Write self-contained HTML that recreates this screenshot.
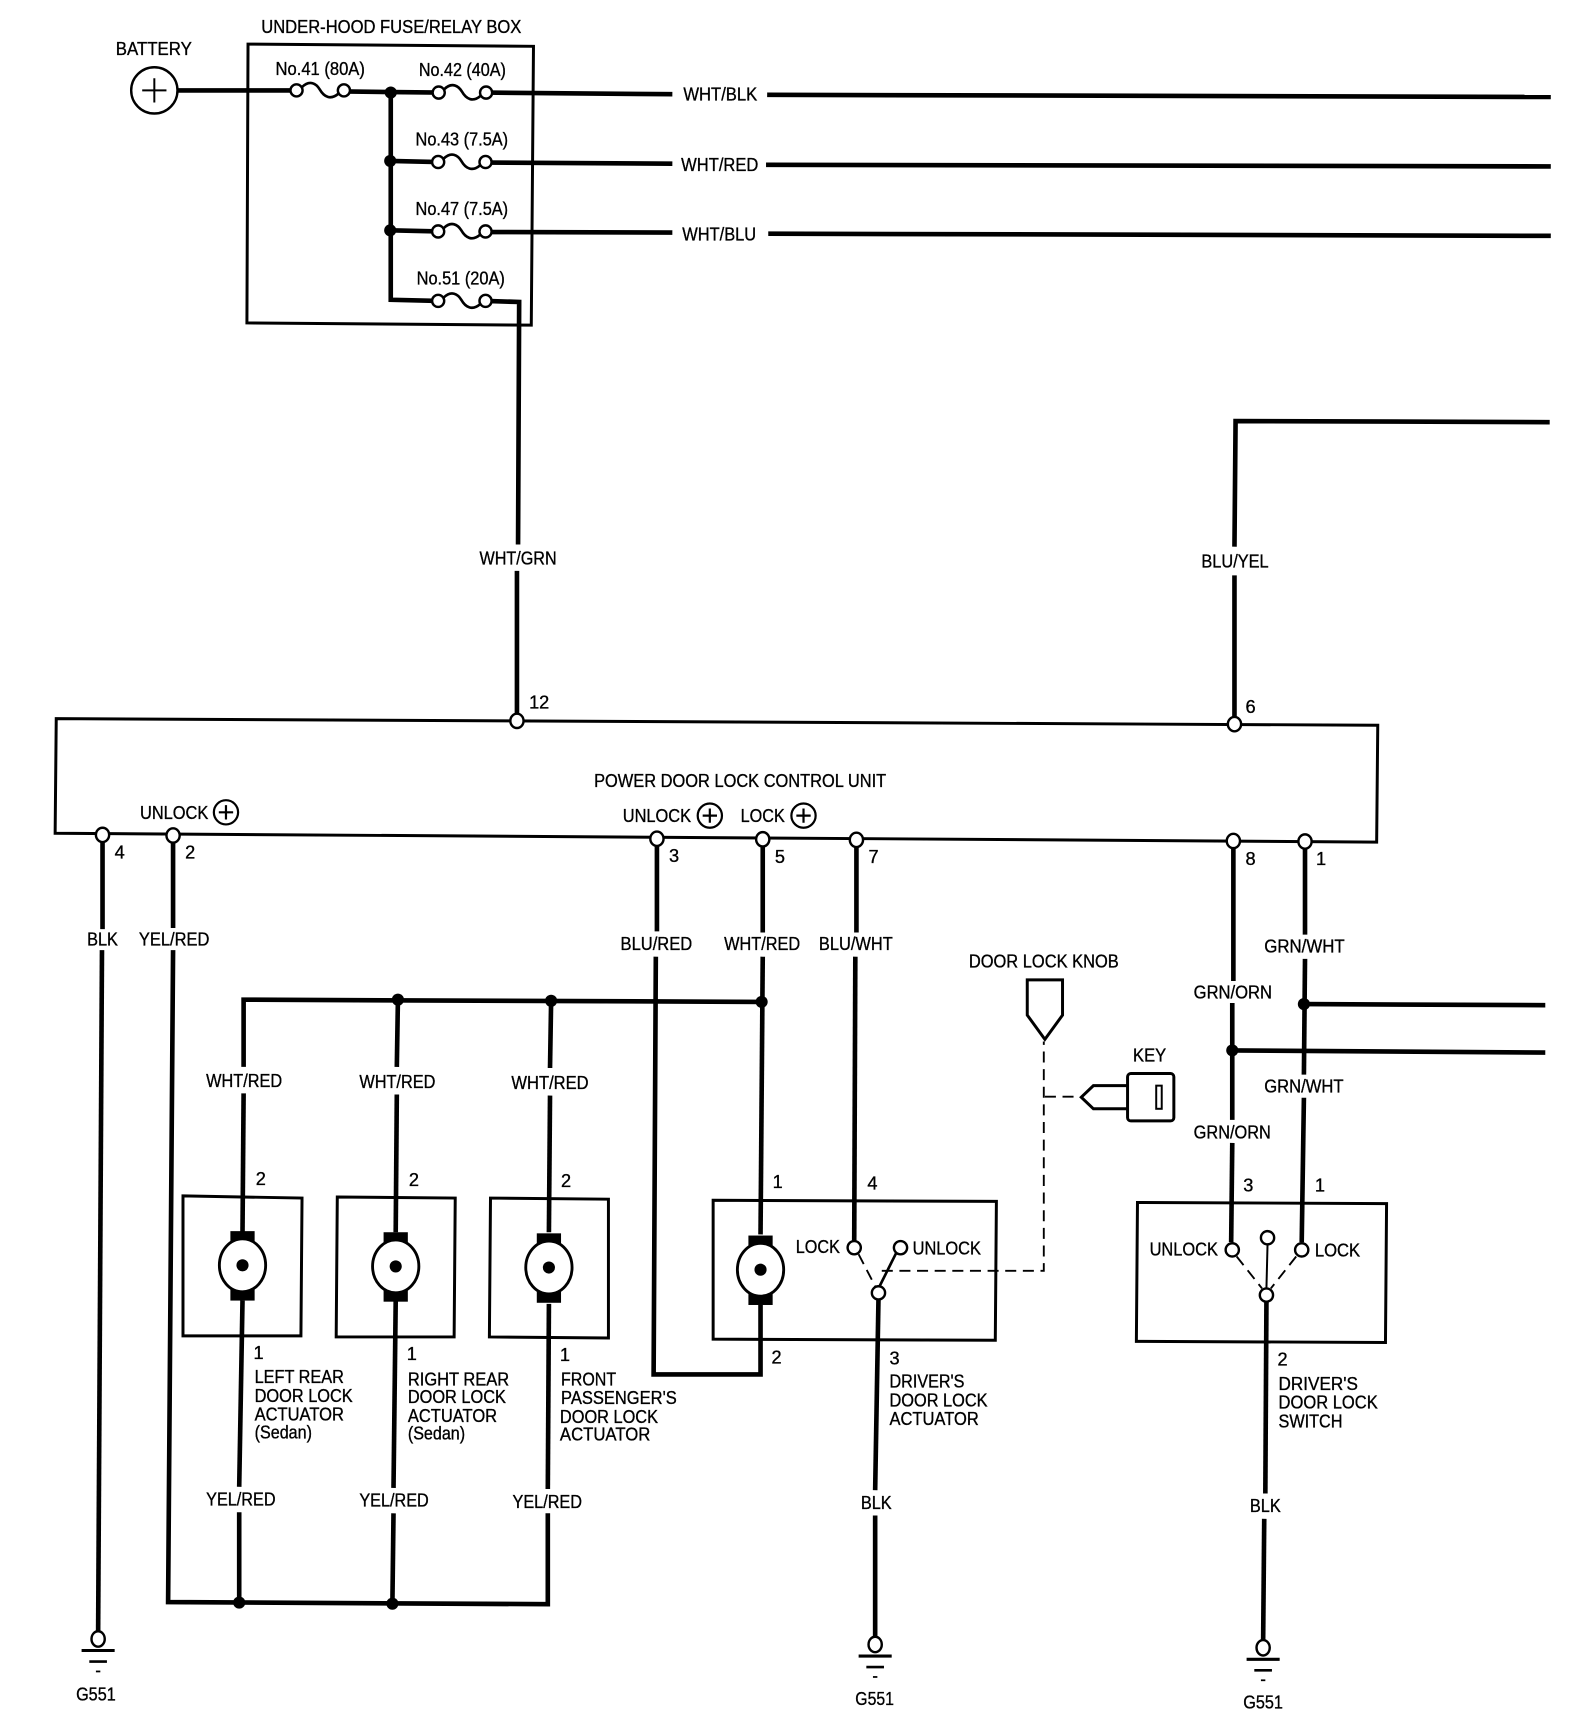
<!DOCTYPE html>
<html><head><meta charset="utf-8"><style>
html,body{margin:0;padding:0;background:#fff}
svg{display:block}
text{font-family:"Liberation Sans",sans-serif;font-size:16.5px;fill:#000;stroke:#000;stroke-width:.3}
.w{fill:none;stroke:#000;stroke-width:4.2;stroke-linejoin:miter}
.b{fill:none;stroke:#000;stroke-width:2.7}
.d{fill:none;stroke:#000;stroke-width:1.7;stroke-dasharray:10 6}
.c{fill:#fff;stroke:#000;stroke-width:2.2}
</style></head><body>
<svg xmlns="http://www.w3.org/2000/svg" width="1584" height="1728" viewBox="0 0 1437.1 1567.8">
<defs>
<g id="fuse"><path d="M5,-3 C12,-10 18,-6 21,-1 C25,6 31,9 38,3" fill="none" stroke="#000" stroke-width="2.4"/><circle class="c" cx="0" cy="0" r="5.5"/><circle class="c" cx="43" cy="0" r="5.5"/></g>
<g id="gnd"><ellipse class="c" cx="0" cy="0" rx="6" ry="7"/><path d="M-15,10.5H15" stroke="#000" stroke-width="2.8"/><path d="M-8,20.5H8" stroke="#000" stroke-width="2.4"/><path d="M-2,29.5H2" stroke="#000" stroke-width="1.6"/></g>
<g id="plus"><circle cx="0" cy="0" r="11" fill="#fff" stroke="#000" stroke-width="2"/><path d="M-6.5,0H6.5M0,-6.5V6.5" stroke="#000" stroke-width="2"/></g>
<g id="motor"><rect x="-11" y="-31" width="22" height="63" fill="#000"/><ellipse cx="0" cy="0" rx="21" ry="24" fill="#fff" stroke="#000" stroke-width="2.6"/><circle cx="0" cy="0" r="5.5" fill="#000"/></g>
</defs>

<!-- boxes -->
<path class="b" d="M225,40 L484,42 L482,295 L224,293Z"/>
<path class="b" d="M51,652 L1250,658 L1249,764 L50,756Z"/>
<path class="b" d="M166,1085 L274,1087 L273,1212 L166,1212Z"/>
<path class="b" d="M306,1086 L413,1087 L412,1213 L305,1213Z"/>
<path class="b" d="M445,1087 L552,1088 L552,1214 L444,1213Z"/>
<path class="b" d="M647,1089 L904,1090 L903,1216 L647,1215Z"/>
<path class="b" d="M1032,1091 L1258,1092 L1257,1218 L1031,1217Z"/>

<!-- top wires -->
<path class="w" d="M161,82 L269,82"/>
<path class="w" d="M312,83 L398,84"/>
<path class="w" d="M354.500,84 L354.500,272 L398,273"/>
<path class="w" d="M354,146 L398,147"/>
<path class="w" d="M354,209 L398,210"/>
<path class="w" d="M441,84 L610,85.5"/>
<path class="w" d="M696,86 L1407,88"/>
<path class="w" d="M441,147.5 L610,148.5"/>
<path class="w" d="M695,149.5 L1407,151"/>
<path class="w" d="M441,210.5 L610,211"/>
<path class="w" d="M697,212 L1407,214"/>
<path class="w" d="M441,273 L471,274 L470,494"/>
<path class="w" d="M469,518 L469,650"/>
<path class="w" d="M1406,383 L1121,382 L1120,496"/>
<path class="w" d="M1120,522 L1120,652"/>

<!-- lower wires -->
<path class="w" d="M93,763 L93,843"/>
<path class="w" d="M92.5,862 L89,1482"/>
<path class="w" d="M157,764 L157,842"/>
<path class="w" d="M157,862 L152.500,1453.500 L497,1455.500 L497,1373"/>
<path class="w" d="M596,767 L596,845"/>
<path class="w" d="M595,868 L593,1247 L690,1247 L690,1184"/>
<path class="w" d="M692,768 L692,846"/>
<path class="w" d="M692,868 L690,1120"/>
<path class="w" d="M777,768 L777,846"/>
<path class="w" d="M776,868 L775,1126"/>
<path class="w" d="M221,968 L221,907 L691,909"/>
<path class="w" d="M221,992 L220,1118"/>
<path class="w" d="M361,907 L360,968"/>
<path class="w" d="M360,993 L359,1118"/>
<path class="w" d="M500,908 L499,969"/>
<path class="w" d="M499,994 L498,1118"/>
<path class="w" d="M220,1180 L217,1349"/>
<path class="w" d="M217,1372 L217,1454"/>
<path class="w" d="M359,1180 L357,1350"/>
<path class="w" d="M357,1373 L356,1455"/>
<path class="w" d="M498,1183 L497,1351"/>
<path class="w" d="M797,1179 L794,1352"/>
<path class="w" d="M794,1375 L794,1485"/>
<path class="w" d="M1119,769 L1119,890"/>
<path class="w" d="M1118,910 L1118,1016"/>
<path class="w" d="M1118,1037 L1117,1127"/>
<path class="w" d="M1118,953 L1402,955"/>
<path class="w" d="M1184,770 L1184,848"/>
<path class="w" d="M1184,870 L1183,975"/>
<path class="w" d="M1183,996 L1181,1127"/>
<path class="w" d="M1183,911 L1402,912"/>
<path class="w" d="M1149,1181 L1148,1355"/>
<path class="w" d="M1147,1378 L1146,1490"/>

<!-- junctions -->
<g fill="#000">
<circle cx="354.500" cy="84" r="5.500"/><circle cx="354" cy="146" r="5.500"/><circle cx="354" cy="209" r="5.500"/>
<circle cx="361" cy="907" r="5.500"/><circle cx="500" cy="908" r="5.500"/><circle cx="691" cy="909" r="5.500"/>
<circle cx="217" cy="1454" r="5.500"/><circle cx="356" cy="1455" r="5.500"/>
<circle cx="1118" cy="953" r="5.500"/><circle cx="1183" cy="911" r="5.500"/>
</g>

<!-- battery -->
<circle cx="140" cy="82" r="21" fill="#fff" stroke="#000" stroke-width="2.200"/>
<path d="M129,82H151M140,71V93" stroke="#000" stroke-width="1.8"/>

<!-- fuses -->
<use href="#fuse" transform="translate(269,82)"/>
<use href="#fuse" transform="translate(398,84)"/>
<use href="#fuse" transform="translate(397.500,147)"/>
<use href="#fuse" transform="translate(397.500,210)"/>
<use href="#fuse" transform="translate(397.500,273)"/>

<!-- terminals -->
<ellipse class="c" cx="469" cy="654" rx="6" ry="6.500"/>
<ellipse class="c" cx="1120" cy="657" rx="6" ry="6.500"/>
<ellipse class="c" cx="93" cy="757.500" rx="6" ry="6.500"/>
<ellipse class="c" cx="157" cy="758" rx="6" ry="6.500"/>
<ellipse class="c" cx="596" cy="761" rx="6" ry="6.500"/>
<ellipse class="c" cx="692" cy="761.500" rx="6" ry="6.500"/>
<ellipse class="c" cx="777" cy="762" rx="6" ry="6.500"/>
<ellipse class="c" cx="1119" cy="763" rx="6" ry="6.500"/>
<ellipse class="c" cx="1184" cy="763.500" rx="6" ry="6.500"/>

<!-- plus marks -->
<use href="#plus" transform="translate(205,737)"/>
<use href="#plus" transform="translate(644,740)"/>
<use href="#plus" transform="translate(729,740)"/>

<!-- motors -->
<use href="#motor" transform="translate(220,1148)"/>
<use href="#motor" transform="translate(359,1149)"/>
<use href="#motor" transform="translate(498,1150)"/>
<use href="#motor" transform="translate(690,1152)"/>

<!-- driver's actuator switch -->
<path d="M779,1138 L794,1167" class="d" stroke-dasharray="6 4"/>
<path d="M813,1137 L798,1167" fill="none" stroke="#000" stroke-width="2.4"/>
<path class="d" d="M800,1153 L947,1153 L947,945"/>
<circle class="c" cx="775" cy="1132" r="6"/>
<circle class="c" cx="817" cy="1132" r="6"/>
<circle class="c" cx="797" cy="1173" r="6"/>

<!-- knob + key -->
<path class="b" d="M932,889 L964,889 L964,921 L948,943 L932,921Z"/>
<path class="d" d="M948,995 L979,995" stroke-dasharray="9 5"/>
<path class="b" d="M1023,985 L992,985 L981,995.500 L992,1006 L1023,1006"/>
<rect class="b" x="1023" y="974" width="42" height="43" rx="3"/>
<rect x="1049" y="985" width="5" height="21" fill="none" stroke="#000" stroke-width="1.8"/>

<!-- driver's switch -->
<path d="M1122,1140 L1145,1169" class="d" stroke-dasharray="8 6"/>
<path d="M1176,1140 L1153,1169" class="d" stroke-dasharray="8 6"/>
<path d="M1150,1129 L1149,1169" fill="none" stroke="#000" stroke-width="1.8"/>
<circle class="c" cx="1118" cy="1134" r="6"/>
<circle class="c" cx="1181" cy="1134" r="6"/>
<circle class="c" cx="1150" cy="1123" r="6"/>
<circle class="c" cx="1149" cy="1175" r="6"/>

<!-- grounds -->
<use href="#gnd" transform="translate(89,1487)"/>
<use href="#gnd" transform="translate(794,1492)"/>
<use href="#gnd" transform="translate(1146,1495)"/>

<!-- labels -->
<g>
<text x="105" y="50" textLength="69" lengthAdjust="spacingAndGlyphs">BATTERY</text>
<text x="237" y="30" textLength="236" lengthAdjust="spacingAndGlyphs">UNDER-HOOD FUSE/RELAY BOX</text>
<text x="250" y="68" textLength="81" lengthAdjust="spacingAndGlyphs">No.41 (80A)</text>
<text x="380" y="69" textLength="79" lengthAdjust="spacingAndGlyphs">No.42 (40A)</text>
<text x="377" y="132" textLength="84" lengthAdjust="spacingAndGlyphs">No.43 (7.5A)</text>
<text x="377" y="195" textLength="84" lengthAdjust="spacingAndGlyphs">No.47 (7.5A)</text>
<text x="378" y="258" textLength="80" lengthAdjust="spacingAndGlyphs">No.51 (20A)</text>
<text x="620" y="91" textLength="67" lengthAdjust="spacingAndGlyphs">WHT/BLK</text>
<text x="618" y="155" textLength="70" lengthAdjust="spacingAndGlyphs">WHT/RED</text>
<text x="619" y="218" textLength="67" lengthAdjust="spacingAndGlyphs">WHT/BLU</text>
<text x="435" y="512" textLength="70" lengthAdjust="spacingAndGlyphs">WHT/GRN</text>
<text x="1090" y="515" textLength="61" lengthAdjust="spacingAndGlyphs">BLU/YEL</text>
<text x="480" y="643">12</text>
<text x="1130" y="647">6</text>
<text x="539" y="714" textLength="265" lengthAdjust="spacingAndGlyphs">POWER DOOR LOCK CONTROL UNIT</text>
<text x="127" y="743" textLength="62" lengthAdjust="spacingAndGlyphs">UNLOCK</text>
<text x="565" y="746" textLength="62" lengthAdjust="spacingAndGlyphs">UNLOCK</text>
<text x="672" y="746" textLength="40" lengthAdjust="spacingAndGlyphs">LOCK</text>
<text x="104" y="779">4</text>
<text x="168" y="779">2</text>
<text x="607" y="782">3</text>
<text x="703" y="783">5</text>
<text x="788" y="783">7</text>
<text x="1130" y="785">8</text>
<text x="1194" y="785">1</text>
<text x="79" y="858" textLength="28" lengthAdjust="spacingAndGlyphs">BLK</text>
<text x="126" y="858" textLength="64" lengthAdjust="spacingAndGlyphs">YEL/RED</text>
<text x="563" y="862" textLength="65" lengthAdjust="spacingAndGlyphs">BLU/RED</text>
<text x="657" y="862" textLength="69" lengthAdjust="spacingAndGlyphs">WHT/RED</text>
<text x="743" y="862" textLength="67" lengthAdjust="spacingAndGlyphs">BLU/WHT</text>
<text x="879" y="878" textLength="136" lengthAdjust="spacingAndGlyphs">DOOR LOCK KNOB</text>
<text x="1147" y="864" textLength="73" lengthAdjust="spacingAndGlyphs">GRN/WHT</text>
<text x="1083" y="906" textLength="71" lengthAdjust="spacingAndGlyphs">GRN/ORN</text>
<text x="1028" y="963" textLength="30" lengthAdjust="spacingAndGlyphs">KEY</text>
<text x="1147" y="991" textLength="72" lengthAdjust="spacingAndGlyphs">GRN/WHT</text>
<text x="1083" y="1033" textLength="70" lengthAdjust="spacingAndGlyphs">GRN/ORN</text>
<text x="187" y="986" textLength="69" lengthAdjust="spacingAndGlyphs">WHT/RED</text>
<text x="326" y="987" textLength="69" lengthAdjust="spacingAndGlyphs">WHT/RED</text>
<text x="464" y="988" textLength="70" lengthAdjust="spacingAndGlyphs">WHT/RED</text>
<text x="232" y="1075">2</text>
<text x="371" y="1076">2</text>
<text x="509" y="1077">2</text>
<text x="701" y="1078">1</text>
<text x="787" y="1079">4</text>
<text x="1128" y="1081">3</text>
<text x="1193" y="1081">1</text>
<text x="230" y="1233">1</text>
<text x="369" y="1234">1</text>
<text x="508" y="1235">1</text>
<text x="700" y="1237">2</text>
<text x="807" y="1238">3</text>
<text x="1159" y="1239">2</text>
<text x="722" y="1137" textLength="40" lengthAdjust="spacingAndGlyphs">LOCK</text>
<text x="828" y="1138" textLength="62" lengthAdjust="spacingAndGlyphs">UNLOCK</text>
<text x="1043" y="1139" textLength="62" lengthAdjust="spacingAndGlyphs">UNLOCK</text>
<text x="1193" y="1140" textLength="41" lengthAdjust="spacingAndGlyphs">LOCK</text>
<text x="231" y="1255" textLength="81" lengthAdjust="spacingAndGlyphs">LEFT REAR</text>
<text x="231" y="1272" textLength="89" lengthAdjust="spacingAndGlyphs">DOOR LOCK</text>
<text x="231" y="1289" textLength="81" lengthAdjust="spacingAndGlyphs">ACTUATOR</text>
<text x="231" y="1305" textLength="52" lengthAdjust="spacingAndGlyphs">(Sedan)</text>
<text x="370" y="1257" textLength="92" lengthAdjust="spacingAndGlyphs">RIGHT REAR</text>
<text x="370" y="1273" textLength="89" lengthAdjust="spacingAndGlyphs">DOOR LOCK</text>
<text x="370" y="1290" textLength="81" lengthAdjust="spacingAndGlyphs">ACTUATOR</text>
<text x="370" y="1306" textLength="52" lengthAdjust="spacingAndGlyphs">(Sedan)</text>
<text x="509" y="1257" textLength="50" lengthAdjust="spacingAndGlyphs">FRONT</text>
<text x="509" y="1274" textLength="105" lengthAdjust="spacingAndGlyphs">PASSENGER'S</text>
<text x="508" y="1291" textLength="89" lengthAdjust="spacingAndGlyphs">DOOR LOCK</text>
<text x="508" y="1307" textLength="82" lengthAdjust="spacingAndGlyphs">ACTUATOR</text>
<text x="807" y="1259" textLength="68" lengthAdjust="spacingAndGlyphs">DRIVER'S</text>
<text x="807" y="1276" textLength="89" lengthAdjust="spacingAndGlyphs">DOOR LOCK</text>
<text x="807" y="1293" textLength="81" lengthAdjust="spacingAndGlyphs">ACTUATOR</text>
<text x="1160" y="1261" textLength="72" lengthAdjust="spacingAndGlyphs">DRIVER'S</text>
<text x="1160" y="1278" textLength="90" lengthAdjust="spacingAndGlyphs">DOOR LOCK</text>
<text x="1160" y="1295" textLength="58" lengthAdjust="spacingAndGlyphs">SWITCH</text>
<text x="187" y="1366" textLength="63" lengthAdjust="spacingAndGlyphs">YEL/RED</text>
<text x="326" y="1367" textLength="63" lengthAdjust="spacingAndGlyphs">YEL/RED</text>
<text x="465" y="1368" textLength="63" lengthAdjust="spacingAndGlyphs">YEL/RED</text>
<text x="781" y="1369" textLength="28" lengthAdjust="spacingAndGlyphs">BLK</text>
<text x="1134" y="1372" textLength="28" lengthAdjust="spacingAndGlyphs">BLK</text>
<text x="69" y="1543" textLength="36" lengthAdjust="spacingAndGlyphs">G551</text>
<text x="776" y="1547" textLength="35" lengthAdjust="spacingAndGlyphs">G551</text>
<text x="1128" y="1550" textLength="36" lengthAdjust="spacingAndGlyphs">G551</text>
</g>
</svg>
</body></html>
